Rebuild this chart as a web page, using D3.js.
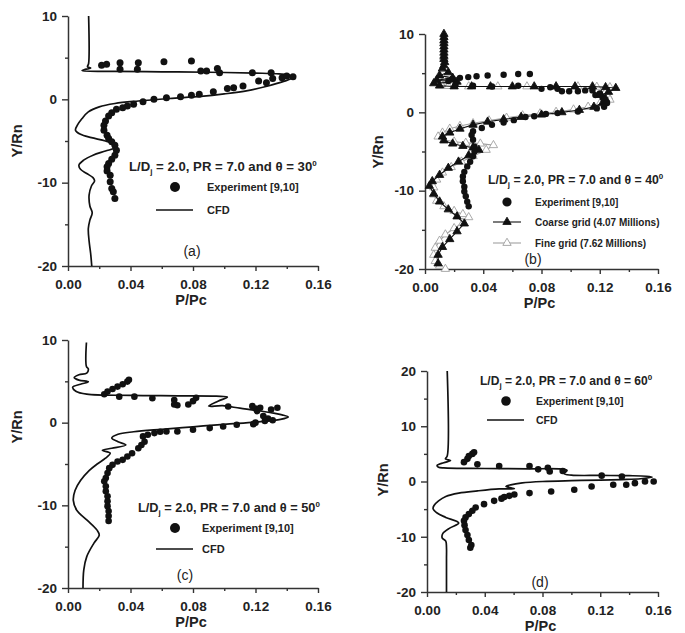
<!DOCTYPE html>
<html>
<head>
<meta charset="utf-8">
<script src="https://cdn.jsdelivr.net/npm/d3@7"></script>
<style>
body { margin: 0; background: #fff; }
text { font-family: "Liberation Sans", Arial, sans-serif; fill: #222; }
.axis .domain { stroke: #333; stroke-width: 1.5; }
.axis line { stroke: #333; stroke-width: 1.4; }
.axis text { font-size: 13.5px; font-weight: bold; fill: #222; }
</style>
</head>
<body>
<svg id="chart" width="685" height="633"></svg>
<script>
// ticks
var xMajor = [0, 0.04, 0.08, 0.12, 0.16];
var xMinor = [0.02, 0.06, 0.10, 0.14];
var yMajor = [-20, -10, 0, 10];
var yMinor = [-15, -5, 5];
var yMajorD = [-20, -10, 0, 10, 20];
var yMinorD = [-15, -5, 5, 15];

// (a) theta = 30
var expA = [[0.0215,4.1],[0.0247,4.2],[0.0333,4.4],[0.0333,3.6],[0.045,4.4],[0.0444,3.6],[0.0614,4.5],[0.079,4.6],
  [0.085,3.4],[0.0887,3.4],[0.0956,3.7],[0.097,3.2],[0.118,3.2],[0.130,3.2],[0.131,2.5],[0.137,2.6],[0.140,2.8],[0.144,2.7],
  [0.127,2.0],[0.122,2.2],[0.112,1.6],[0.106,1.4],[0.102,1.3],[0.093,0.9],[0.084,0.6],[0.079,0.5],[0.072,0.3],[0.063,0.2],
  [0.055,0.0],[0.048,-0.3],[0.042,-0.6],[0.038,-0.8],[0.035,-1.0],[0.031,-1.2],[0.028,-1.6],[0.026,-2.0],[0.024,-2.6],
  [0.023,-3.1],[0.023,-3.7],[0.025,-4.3],[0.026,-4.7],[0.028,-5.1],[0.030,-5.5],[0.031,-6.1],[0.030,-6.7],[0.028,-7.2],
  [0.026,-7.7],[0.025,-8.1],[0.025,-8.6],[0.027,-9.1],[0.027,-9.9],[0.028,-10.7],[0.029,-11.1],[0.030,-11.9]];
var cfdA = [[0.0132,10],[0.0132,4.3],[0.0125,3.9],[0.0145,3.75],[0.011,3.6],[0.009,3.45],[0.03,3.35],[0.06,3.3],[0.09,3.25],
  [0.12,3.15],[0.135,3.05],[0.142,2.85],[0.143,2.55],[0.138,2.15],[0.128,1.6],[0.115,1.05],[0.10,0.65],[0.085,0.35],
  [0.065,0.1],[0.045,-0.2],[0.03,-0.5],[0.02,-0.9],[0.013,-1.5],[0.009,-2.3],[0.006,-3.1],[0.0048,-3.7],[0.008,-4.2],
  [0.015,-4.6],[0.024,-5.0],[0.029,-5.4],[0.030,-5.8],[0.024,-6.2],[0.016,-6.7],[0.010,-7.3],[0.007,-7.9],[0.008,-8.4],
  [0.012,-8.9],[0.016,-9.4],[0.017,-9.8],[0.015,-10.4],[0.0135,-11.5],[0.014,-12.8],[0.0155,-13.6],[0.014,-14.5],
  [0.013,-15.5],[0.0135,-17],[0.0145,-18.5],[0.0152,-20]];

// (b) theta = 40
var expB = [[0.016,4.0],[0.019,4.3],[0.024,4.4],[0.0297,4.5],[0.0354,4.6],[0.043,4.7],[0.054,4.8],[0.064,4.9],[0.072,4.9],
  [0.021,3.5],[0.033,3.4],[0.046,3.3],[0.064,3.4],[0.080,3.0],[0.086,3.2],[0.091,3.0],[0.094,2.7],[0.099,2.7],[0.105,2.7],
  [0.110,2.8],[0.115,2.8],[0.117,2.2],[0.120,2.4],[0.122,1.9],[0.123,1.6],[0.125,1.2],[0.123,0.7],[0.118,0.5],
  [0.105,0.1],[0.091,-0.1],[0.083,-0.2],[0.075,-0.5],[0.069,-0.6],[0.061,-1.0],[0.054,-1.3],[0.046,-1.6],[0.039,-2.0],
  [0.033,-2.4],[0.032,-2.9],[0.033,-3.5],[0.034,-4.4],[0.034,-5.0],[0.033,-5.6],[0.031,-6.3],[0.029,-6.9],[0.027,-7.6],
  [0.026,-8.2],[0.026,-8.8],[0.027,-9.5],[0.027,-10.1],[0.028,-10.7],[0.029,-11.4],[0.030,-12.0]];
var coarseB = [[0.013,10],[0.013,9.6],[0.013,9.2],[0.013,8.8],[0.013,8.4],[0.013,8],[0.013,7.6],[0.013,7.2],[0.013,6.8],
  [0.0135,6.4],[0.013,6],[0.012,5.6],[0.016,5.1],[0.010,4.7],[0.019,4.4],[0.008,4.1],[0.022,3.9],[0.006,3.7],[0.010,3.4],
  [0.02,3.3],[0.032,3.3],[0.045,3.3],[0.06,3.3],[0.075,3.3],[0.09,3.3],[0.103,3.3],[0.115,3.3],[0.124,3.2],[0.131,3.1],
  [0.126,2.6],[0.121,2.2],[0.124,1.7],[0.122,1.2],[0.116,0.7],[0.106,0.3],[0.094,0.0],[0.080,-0.3],[0.066,-0.6],
  [0.054,-0.9],[0.043,-1.2],[0.033,-1.6],[0.024,-2.1],[0.017,-2.6],[0.012,-3.1],[0.013,-3.6],[0.019,-4.0],[0.026,-4.3],
  [0.033,-4.5],[0.037,-4.8],[0.030,-5.5],[0.023,-6.3],[0.016,-7.1],[0.010,-8.0],[0.005,-8.8],[0.003,-9.4],[0.006,-10.4],
  [0.010,-11.4],[0.016,-12.4],[0.022,-13.3],[0.027,-14.2],[0.022,-15.2],[0.017,-16.2],[0.012,-17.2],[0.009,-18.2],
  [0.009,-19.3]];
var fineB = [[0.013,9],[0.013,7],[0.012,5.5],[0.009,4.5],[0.015,4.0],[0.011,3.6],[0.016,3.35],[0.03,3.3],[0.05,3.3],
  [0.07,3.3],[0.09,3.3],[0.105,3.3],[0.118,3.25],[0.127,3.2],[0.124,2.6],[0.126,2.0],[0.127,1.6],[0.12,1.1],[0.112,0.7],
  [0.102,0.35],[0.090,0.05],[0.079,-0.15],[0.067,-0.4],[0.056,-0.7],[0.044,-1.05],[0.033,-1.4],[0.024,-1.75],[0.017,-2.1],
  [0.012,-2.6],[0.009,-3.1],[0.013,-3.5],[0.020,-3.75],[0.028,-3.9],[0.038,-4.0],[0.047,-4.2],[0.042,-4.8],[0.033,-5.6],
  [0.025,-6.3],[0.018,-7.0],[0.012,-7.7],[0.008,-8.6],[0.006,-9.6],[0.006,-10.5],[0.008,-11.3],[0.013,-12.0],[0.020,-12.6],
  [0.026,-13.0],[0.030,-13.4],[0.026,-14.1],[0.020,-14.8],[0.014,-15.6],[0.010,-16.4],[0.007,-17.3],[0.006,-18.2],
  [0.007,-19.0],[0.010,-19.6],[0.014,-20]];

// (c) theta = 50
var expC = [[0.0232,3.44],[0.0253,3.76],[0.0285,4.08],[0.0317,4.36],[0.035,4.64],[0.038,4.97],[0.039,5.2],
  [0.0328,3.15],[0.0425,3.15],[0.054,2.95],[0.068,2.75],[0.068,2.2],[0.070,2.1],[0.077,2.2],[0.080,2.6],[0.082,3.0],
  [0.1025,1.95],[0.118,2.0],[0.120,1.7],[0.121,1.4],[0.123,1.8],[0.130,1.6],[0.134,1.8],[0.125,0.8],[0.128,0.5],
  [0.131,0.3],[0.126,0.2],[0.120,0.0],[0.1186,-0.18],[0.108,-0.26],[0.0993,-0.46],[0.0907,-0.66],[0.080,-0.86],
  [0.070,-1.06],[0.063,-1.06],[0.059,-1.1],[0.0553,-1.26],[0.0511,-1.46],[0.048,-1.66],[0.049,-2.3],[0.047,-2.7],
  [0.045,-3.1],[0.041,-3.7],[0.038,-4.1],[0.035,-4.5],[0.0317,-4.7],[0.0285,-5.1],[0.0264,-5.5],[0.0253,-6.1],
  [0.0242,-6.7],[0.0232,-7.1],[0.0242,-7.7],[0.0242,-8.3],[0.0253,-8.9],[0.0253,-9.5],[0.0253,-10.1],[0.026,-10.7],
  [0.026,-11.3],[0.026,-11.9]];
var cfdC = [[0.0118,9.7],[0.0118,6.8],[0.013,6.5],[0.012,6.0],[0.007,5.8],[0.004,5.45],[0.007,5.15],[0.013,4.95],
  [0.008,4.65],[0.003,4.3],[0.005,3.8],[0.012,3.45],[0.04,3.3],[0.07,3.25],[0.095,3.2],[0.102,3.1],[0.096,2.6],
  [0.090,2.0],[0.099,2.05],[0.110,1.75],[0.120,1.5],[0.130,1.2],[0.137,0.95],[0.141,0.7],[0.136,0.4],[0.122,0.1],
  [0.100,-0.2],[0.080,-0.5],[0.060,-0.8],[0.042,-1.1],[0.032,-1.4],[0.028,-1.85],[0.032,-2.3],[0.037,-2.7],[0.028,-3.1],
  [0.022,-3.35],[0.027,-3.7],[0.024,-4.3],[0.0187,-5.0],[0.0135,-5.8],[0.008,-7.0],[0.0045,-8.2],[0.0034,-9.4],
  [0.0056,-10.6],[0.0122,-11.8],[0.0186,-13.0],[0.020,-13.6],[0.0165,-14.6],[0.012,-16.2],[0.0101,-17.8],[0.0096,-20]];

// (d) theta = 60
var expD = [[0.0256,3.5],[0.028,4.1],[0.029,4.6],[0.0314,5.0],[0.0326,5.3],[0.0349,3.1],[0.050,2.8],[0.071,2.8],
  [0.077,2.2],[0.0837,2.5],[0.085,1.8],[0.094,1.9],[0.121,1.06],[0.135,0.9],[0.151,0.0],[0.157,0.0],[0.144,-0.3],
  [0.138,-0.6],[0.129,-0.6],[0.114,-0.9],[0.102,-1.5],[0.086,-1.8],[0.071,-2.1],[0.0605,-2.35],[0.057,-2.6],
  [0.0535,-2.8],[0.0516,-3.1],[0.0465,-3.5],[0.0395,-4.1],[0.0337,-4.7],[0.0314,-5.3],[0.029,-5.9],[0.0267,-6.5],
  [0.0256,-7.1],[0.026,-7.9],[0.0267,-8.8],[0.028,-9.7],[0.029,-10.6],[0.0307,-11.5],[0.030,-12.0]];
var cfdD = [[0.014,20],[0.014,4.6],[0.0128,4.1],[0.0163,3.8],[0.0116,3.4],[0.007,2.9],[0.008,2.6],[0.0116,2.45],
  [0.04,2.35],[0.07,2.3],[0.093,2.25],[0.097,2.0],[0.095,1.4],[0.10,1.15],[0.12,1.1],[0.14,1.05],[0.152,0.95],
  [0.156,0.8],[0.148,0.5],[0.135,0.35],[0.12,0.25],[0.10,0.15],[0.08,0.0],[0.066,-0.25],[0.058,-0.6],[0.0547,-0.9],
  [0.0605,-1.3],[0.050,-1.35],[0.035,-1.7],[0.022,-2.1],[0.013,-2.7],[0.008,-3.5],[0.005,-4.3],[0.0042,-4.9],
  [0.007,-5.7],[0.013,-6.5],[0.022,-7.5],[0.016,-8.4],[0.011,-9.4],[0.0105,-10.2],[0.013,-10.8],[0.0135,-12],
  [0.0135,-14],[0.0135,-20]];

var svg = d3.select("#chart");

function drawPanel(p) {
  var x = d3.scaleLinear().domain([0, 0.16]).range([p.left, p.right]);
  var y = d3.scaleLinear().domain(p.yDomain).range([p.bottom, p.top]);
  var g = svg.append("g");

  // axes: minor ticks first, then major
  g.append("g").attr("class", "axis").attr("transform", "translate(0," + p.bottom + ")")
    .call(d3.axisBottom(x).tickValues(xMinor).tickSize(3).tickFormat(""))
    .call(function(s) { s.select(".domain").remove(); });
  g.append("g").attr("class", "axis").attr("transform", "translate(0," + p.bottom + ")")
    .call(d3.axisBottom(x).tickValues(xMajor).tickSize(5).tickSizeOuter(0).tickPadding(8)
      .tickFormat(d3.format(".2f")));
  g.append("g").attr("class", "axis").attr("transform", "translate(" + p.left + ",0)")
    .call(d3.axisLeft(y).tickValues(p.yMinor).tickSize(3).tickFormat(""))
    .call(function(s) { s.select(".domain").remove(); });
  g.append("g").attr("class", "axis").attr("transform", "translate(" + p.left + ",0)")
    .call(d3.axisLeft(y).tickValues(p.yMajor).tickSize(6).tickSizeOuter(0).tickPadding(5)
      .tickFormat(function(d) { return String(d); }));

  // axis titles
  g.append("text").attr("x", (p.left + p.right) / 2 - 2).attr("y", p.bottom + 34)
    .attr("text-anchor", "middle").attr("dy", "0.35em").attr("font-size", 14.5).attr("font-weight", "bold").text("P/Pc");
  g.append("text").attr("transform", "translate(" + p.ylab[0] + "," + p.ylab[1] + ") rotate(-90)")
    .attr("text-anchor", "middle").attr("dy", "0.35em").attr("font-size", 14.5).attr("font-weight", "bold").text("Y/Rn");

  var line = d3.line().x(function(d) { return x(d[0]); }).y(function(d) { return y(d[1]); })
    .curve(d3.curveCatmullRom.alpha(0.5));
  var straight = d3.line().x(function(d) { return x(d[0]); }).y(function(d) { return y(d[1]); });
  var tri = d3.symbol().type(d3.symbolTriangle).size(30);

  p.series.forEach(function(s) {
    if (s.type === "cfd") {
      g.append("path").datum(s.data).attr("d", line).attr("fill", "none")
        .attr("stroke", "#111").attr("stroke-width", 1.7).attr("stroke-linejoin", "round");
    } else if (s.type === "exp") {
      g.append("g").selectAll("circle").data(s.data).enter().append("circle")
        .attr("cx", function(d) { return x(d[0]); }).attr("cy", function(d) { return y(d[1]); })
        .attr("r", s.r).attr("fill", "#111");
    } else if (s.type === "tri") {
      g.append("path").datum(s.data).attr("d", straight).attr("fill", "none")
        .attr("stroke", s.stroke).attr("stroke-width", 1.1);
      g.append("g").selectAll("path").data(s.data).enter().append("path")
        .attr("d", tri).attr("transform", function(d) { return "translate(" + x(d[0]) + "," + y(d[1]) + ")"; })
        .attr("fill", s.fill).attr("stroke", s.stroke).attr("stroke-width", 0.9);
    }
  });

  // legend title with subscript j and superscript 0
  var lg = p.legend;
  var t = g.append("text").attr("x", lg.x).attr("y", lg.titleY).attr("font-weight", "bold").attr("font-size", 13);
  t.append("tspan").text("L/D");
  t.append("tspan").attr("dy", 3).attr("font-size", 8).text("j");
  t.append("tspan").attr("dy", -3).text(" = 2.0, PR = 7.0 and \u03b8 = " + p.angle);
  t.append("tspan").attr("dy", -5).attr("font-size", 8).text("0");
  var w = t.node().getComputedTextLength();
  t.attr("font-size", 13 * lg.titleW / w);

  lg.items.forEach(function(it) {
    if (it.kind === "exp") {
      g.append("circle").attr("cx", lg.mx).attr("cy", it.y).attr("r", lg.dotR).attr("fill", "#111");
    } else if (it.kind === "cfd") {
      g.append("line").attr("x1", lg.mx - 19).attr("x2", lg.mx + 18).attr("y1", it.y).attr("y2", it.y)
        .attr("stroke", "#111").attr("stroke-width", 1.7);
    } else {
      g.append("line").attr("x1", lg.mx - 14).attr("x2", lg.mx + 14).attr("y1", it.y).attr("y2", it.y)
        .attr("stroke", it.stroke).attr("stroke-width", 1.1);
      g.append("path").attr("d", tri).attr("transform", "translate(" + lg.mx + "," + it.y + ")")
        .attr("fill", it.fill).attr("stroke", it.stroke).attr("stroke-width", 0.9);
    }
    g.append("text").attr("x", lg.tx).attr("y", it.y).attr("dy", "0.35em")
      .attr("font-size", lg.fs).attr("font-weight", "bold").text(it.label);
  });

  g.append("text").attr("x", p.tag[0]).attr("y", p.tag[1]).attr("dy", "0.35em").attr("text-anchor", "middle")
    .attr("font-size", 14).text(p.tagText);
}

drawPanel({
  left: 68, right: 318, top: 16, bottom: 266, yDomain: [-20, 10], yMajor: yMajor, yMinor: yMinor,
  ylab: [17, 141], angle: "30", tag: [192, 251], tagText: "(a)",
  series: [{ type: "cfd", data: cfdA }, { type: "exp", data: expA, r: 3.5 }],
  legend: { x: 129, titleY: 171, titleW: 188, mx: 175, tx: 207, dotR: 5, fs: 11,
    items: [{ kind: "exp", y: 187, label: "Experiment [9,10]" }, { kind: "cfd", y: 210, label: "CFD" }] }
});

drawPanel({
  left: 425, right: 658, top: 34, bottom: 269, yDomain: [-20, 10], yMajor: yMajor, yMinor: yMinor,
  ylab: [378, 152], angle: "40", tag: [533, 259], tagText: "(b)",
  series: [
    { type: "tri", data: fineB, fill: "#fff", stroke: "#a0a0a0" },
    { type: "tri", data: coarseB, fill: "#111", stroke: "#111" },
    { type: "exp", data: expB, r: 3.2 }],
  legend: { x: 488, titleY: 184, titleW: 175, mx: 507, tx: 535, dotR: 4.6, fs: 10,
    items: [{ kind: "exp", y: 202, label: "Experiment [9,10]" },
      { kind: "tri", y: 222, label: "Coarse grid (4.07 Millions)", fill: "#111", stroke: "#111" },
      { kind: "tri", y: 243, label: "Fine grid (7.62 Millions)", fill: "#fff", stroke: "#a0a0a0" }] }
});

drawPanel({
  left: 68, right: 318, top: 340, bottom: 588, yDomain: [-20, 10], yMajor: yMajor, yMinor: yMinor,
  ylab: [17, 427], angle: "50", tag: [185, 575], tagText: "(c)",
  series: [{ type: "cfd", data: cfdC }, { type: "exp", data: expC, r: 3.3 }],
  legend: { x: 138, titleY: 512, titleW: 182, mx: 175, tx: 202, dotR: 5, fs: 11,
    items: [{ kind: "exp", y: 528, label: "Experiment [9,10]" }, { kind: "cfd", y: 549, label: "CFD" }] }
});

drawPanel({
  left: 427, right: 658, top: 371, bottom: 592, yDomain: [-20, 20], yMajor: yMajorD, yMinor: yMinorD,
  ylab: [383, 480], angle: "60", tag: [540, 582], tagText: "(d)",
  series: [{ type: "cfd", data: cfdD }, { type: "exp", data: expD, r: 3.3 }],
  legend: { x: 480, titleY: 385, titleW: 172, mx: 506, tx: 536, dotR: 4.8, fs: 10.5,
    items: [{ kind: "exp", y: 401, label: "Experiment [9,10]" }, { kind: "cfd", y: 420, label: "CFD" }] }
});
</script>
</body>
</html>
